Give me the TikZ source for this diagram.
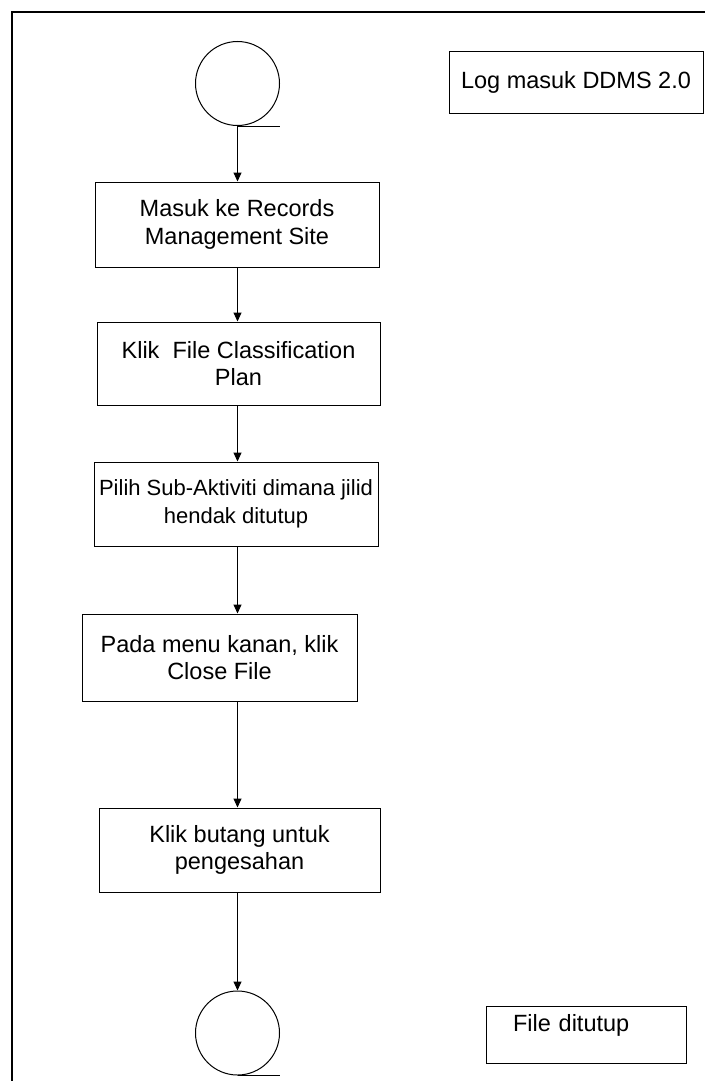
\documentclass[tikz,border=0pt]{standalone}
\usepackage{fontspec}
\setmainfont{Liberation Sans}
\usetikzlibrary{arrows.meta}
\newcommand{\widthstep}{284pt}
\newcommand{\heightstep}{85pt}
\newcommand{\sizeterminal}{84pt}
\tikzset{
    common/.style={draw, rectangle, line width=1pt, font=\fontsize{23.5}{27.5}\selectfont},
    stepbox/.style={common, align=center, minimum width=\widthstep, minimum height=\heightstep},
    note/.style={common, minimum height=61pt},
    terminal/.style={draw, circle, line width=1pt, minimum size=\sizeterminal, inner sep=0pt},
    flow/.style={-{Triangle[length=9pt, width=8pt]}, line width=1pt},
    frame/.style={line width=2pt}
}

\begin{document}
\begin{tikzpicture}[x=1pt, y=-1pt]
            \useasboundingbox (0,0) rectangle (705,1081);
            \draw[frame] (12,1081) -- (12,12) -- (705,12);

            \path
                (237.5,83.5) node[terminal] (mula) {}
                (576,82.5) node[note, minimum width=254pt] (logmasuk) {Log masuk DDMS 2.0}
                (237,224.5) node[stepbox] (masuk) {Masuk ke Records\\Management Site}
                (238.5,363.5) node[stepbox, minimum width=283pt, minimum height=83pt] (klikfcp) {Klik\ \ File Classification\\Plan}
                (236,504) node[stepbox, minimum height=84pt, inner xsep=2pt, font=\fontsize{22}{27.5}\selectfont] (pilih) {Pilih Sub-Aktiviti dimana jilid\\hendak ditutup}
                (219.5,657.5) node[stepbox, minimum width=275pt, minimum height=87pt] (menu) {Pada menu kanan, klik\\Close File}
                (239.5,850) node[stepbox, minimum width=281pt, minimum height=84pt] (butang) {Klik butang untuk\\pengesahan}
                (237.5,1033) node[terminal] (tamat) {}
                (586,1006) node[common, anchor=north, text width=200pt, align=left, inner sep=0pt,
                    text height=25.4pt, text depth=31.6pt] (ditutup) {\hspace*{27pt}File ditutup};

            \draw[line width=1pt] (mula.south) -- (mula.south -| mula.east);
            \draw[line width=1pt] (tamat.south) -- (tamat.south -| tamat.east);

            \draw[flow] (mula.south) -- (masuk.north -| mula.south);
            \foreach \from/\to in {masuk/klikfcp, klikfcp/pilih, pilih/menu, menu/butang}
                \draw[flow] (\from.south -| mula.south) -- (\to.north -| mula.south);
            \draw[flow] (butang.south -| mula.south) -- (tamat.north);
\end{tikzpicture}
\end{document}
